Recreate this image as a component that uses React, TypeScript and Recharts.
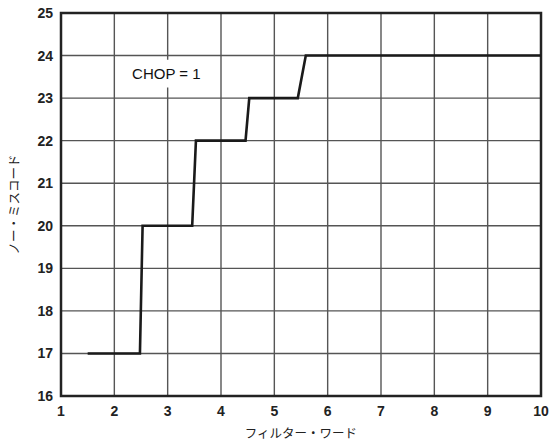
import React from 'react';
import { LineChart, Line, XAxis, YAxis, CartesianGrid, ReferenceArea } from 'recharts';

const filterWords = [1.5, 2.48, 2.53, 3.46, 3.53, 4.46, 4.53, 5.44, 5.59, 10];
const missCodes = [17, 17, 20, 20, 22, 22, 23, 23, 24, 24];
const xTicks = [1, 2, 3, 4, 5, 6, 7, 8, 9, 10];
const yTicks = [16, 17, 18, 19, 20, 21, 22, 23, 24, 25];
const xLabel = 'フィルター・ワード';
const yLabel = 'ノー・ミスコード';
const note = 'CHOP = 1';

const data = filterWords.map((x, i) => ({ x, y: missCodes[i] }));

const tickStyle = { fontFamily: '"Liberation Sans", Arial, sans-serif', fontSize: 14, fontWeight: 700, fill: '#222' };
const jp = '"Noto Sans CJK JP", sans-serif';

export default function App() {
  return (
    <div style={{ position: 'absolute', left: 0, top: 0, background: '#fff' }}>
      <LineChart width={551} height={444} data={data} margin={{ top: 13, right: 10, left: 0, bottom: 4 }}>
        <CartesianGrid stroke="#555" strokeWidth={1.4} />
        <XAxis
          dataKey="x"
          type="number"
          domain={[1, 10]}
          ticks={xTicks}
          allowDataOverflow
          height={44}
          tickLine={false}
          axisLine={false}
          tickMargin={4}
          tick={tickStyle}
          label={{ value: xLabel, position: 'insideBottom', offset: 2, style: { fontFamily: jp, fontSize: 12.5, fill: '#222' } }}
        />
        <YAxis
          type="number"
          domain={[16, 25]}
          ticks={yTicks}
          allowDataOverflow
          width={61}
          tickLine={false}
          axisLine={false}
          tick={tickStyle}
          label={{ value: yLabel, angle: -90, position: 'insideLeft', offset: 15, style: { textAnchor: 'middle', fontFamily: jp, fontSize: 12.5, fill: '#222' } }}
        />
        <ReferenceArea x1={2.25} x2={3.7} y1={23.25} y2={23.9} fill="#fff" fillOpacity={1} stroke="none"
          label={{ value: note, position: 'center', style: { fontFamily: '"Liberation Sans", Arial, sans-serif', fontSize: 15, fontWeight: 400, fill: '#111' } }} />
        <ReferenceArea x1={1} x2={10} y1={16} y2={25} fill="none" stroke="#222" strokeWidth={2.5} />
        <Line type="linear" dataKey="y" stroke="#1a1a1a" strokeWidth={2.6} dot={false} isAnimationActive={false} />
      </LineChart>
    </div>
  );
}
